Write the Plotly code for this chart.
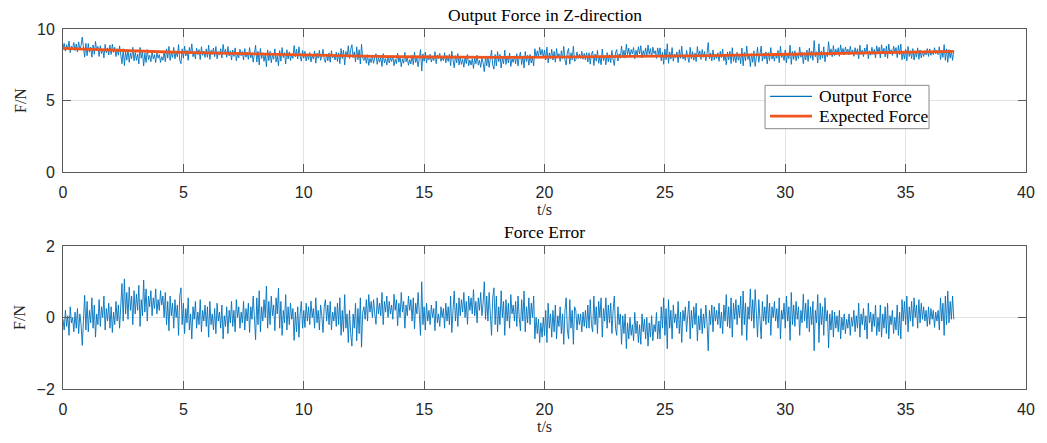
import plotly.graph_objects as go
from plotly.subplots import make_subplots

# ---------------- data ----------------
# sample times of the measured signals: 0.00, 0.05, ... 37.00 s
t_sample = [round(i * 0.05, 2) for i in range(741)]

# expected force, one value per second (t = 0 .. 37 s)
t_expected = list(range(38))
expected_force = [8.65, 8.58, 8.52, 8.46, 8.41, 8.36, 8.32, 8.28, 8.24, 8.20,
                  8.16, 8.13, 8.10, 8.08, 8.06, 8.04, 8.03, 8.02, 8.02, 8.02,
                  8.03, 8.04, 8.05, 8.06, 8.08, 8.10, 8.12, 8.14, 8.17, 8.20,
                  8.23, 8.26, 8.29, 8.32, 8.35, 8.38, 8.41, 8.44]

# measured output force (top panel), every 0.05 s, one row per second
output_force = [
    8.70, 9.00, 8.45, 8.90, 8.60, 9.15, 8.35, 8.80, 8.65, 9.05, 8.50, 8.95, 8.40, 9.10, 8.55, 8.85, 9.43, 8.60, 8.03, 9.00,
    8.13, 8.98, 8.38, 8.73, 8.03, 8.88, 8.23, 9.13, 8.48, 8.78, 8.08, 8.83, 8.28, 8.58, 7.98, 8.93, 8.33, 8.68, 8.18, 8.88,
    8.22, 8.94, 8.37, 8.72, 8.07, 8.62, 8.17, 8.82, 8.27, 7.57, 8.62, 7.44, 8.42, 7.82, 8.57, 7.67, 8.32, 7.92, 8.72, 7.77,
    8.36, 7.81, 8.26, 7.56, 8.71, 7.96, 8.41, 7.41, 8.31, 7.66, 8.56, 7.86, 8.16, 7.71, 8.41, 7.91, 8.21, 7.66, 8.36, 7.96,
    8.21, 7.66, 8.06, 7.81, 8.41, 7.71, 8.61, 7.96, 8.78, 7.81, 8.36, 8.01, 8.71, 7.91, 8.41, 8.06, 8.91, 7.81, 7.58, 8.61,
    7.96, 8.81, 8.11, 8.51, 7.81, 8.71, 8.26, 8.96, 8.06, 8.41, 7.91, 8.66, 8.21, 8.56, 7.86, 8.76, 8.16, 8.46, 8.01, 8.61,
    8.02, 8.87, 7.87, 8.52, 8.22, 8.67, 8.07, 8.77, 7.92, 8.42, 8.17, 8.62, 7.97, 8.92, 8.27, 8.57, 8.02, 8.77, 8.12, 8.47,
    7.83, 8.53, 8.08, 8.68, 7.78, 8.28, 7.98, 8.58, 8.13, 8.43, 7.83, 8.63, 8.03, 8.38, 7.88, 8.70, 7.98, 8.33, 7.68, 8.48,
    8.86, 7.69, 8.44, 7.49, 8.64, 7.94, 8.34, 7.74, 8.24, 7.36, 8.54, 7.79, 8.44, 7.64, 8.19, 7.89, 8.61, 7.69, 8.14, 7.42,
    8.50, 7.75, 8.70, 8.00, 8.35, 7.56, 8.55, 7.90, 8.40, 7.80, 8.25, 7.95, 8.84, 8.05, 8.60, 7.90, 8.75, 8.10, 7.75, 8.50,
    7.96, 8.44, 7.76, 8.26, 7.86, 8.36, 7.70, 8.16, 7.91, 8.46, 7.61, 8.31, 7.96, 8.51, 7.81, 8.11, 8.58, 7.86, 7.66, 8.26,
    7.78, 8.33, 7.68, 8.48, 7.98, 8.23, 7.83, 8.38, 7.73, 8.33, 7.58, 8.63, 7.93, 8.53, 7.49, 8.43, 8.03, 8.83, 7.93, 8.58,
    8.90, 8.00, 8.40, 7.70, 8.75, 7.85, 8.55, 7.55, 8.93, 7.95, 7.80, 8.15, 7.60, 8.20, 7.46, 7.95, 7.65, 8.10, 7.60, 8.00,
    8.27, 7.53, 7.98, 7.68, 8.03, 7.38, 8.28, 7.63, 7.93, 7.48, 8.08, 7.63, 7.98, 7.73, 8.13, 7.43, 7.88, 7.58, 8.31, 7.68,
    8.06, 7.36, 7.91, 7.61, 8.36, 7.71, 8.01, 7.46, 7.86, 7.56, 8.16, 7.51, 8.38, 7.66, 7.96, 7.36, 8.21, 8.56, 7.06, 8.26,
    7.74, 8.39, 7.64, 8.14, 7.84, 8.24, 7.69, 8.04, 7.79, 8.41, 7.58, 8.19, 7.94, 8.29, 7.74, 8.04, 7.79, 8.34, 7.64, 8.14,
    7.73, 8.23, 7.43, 8.45, 7.83, 7.29, 8.13, 7.63, 8.28, 7.48, 7.98, 7.53, 7.88, 7.33, 8.03, 7.58, 8.22, 7.43, 7.83, 7.48,
    7.92, 7.24, 7.97, 7.57, 8.17, 7.47, 7.82, 7.32, 7.97, 7.62, 7.02, 8.07, 7.42, 8.12, 7.32, 7.92, 8.52, 7.47, 7.19, 8.22,
    7.42, 8.42, 7.72, 8.22, 7.27, 8.02, 7.57, 8.52, 7.52, 8.12, 7.62, 8.32, 7.38, 7.92, 7.67, 8.12, 7.57, 8.27, 7.42, 8.02,
    8.39, 7.52, 8.12, 7.28, 8.42, 7.72, 8.17, 7.47, 8.22, 7.62, 8.02, 7.42, 8.62, 8.02, 8.47, 8.07, 8.72, 8.17, 8.57, 8.02,
    8.53, 7.83, 8.73, 7.63, 8.33, 7.93, 8.58, 7.83, 8.43, 7.68, 8.63, 7.98, 8.28, 7.73, 8.48, 7.93, 8.78, 7.83, 7.48, 8.38,
    8.64, 7.54, 8.34, 7.84, 8.79, 7.74, 7.84, 8.39, 7.94, 8.24, 7.94, 8.44, 7.89, 8.29, 7.84, 8.34, 7.69, 8.34, 7.54, 8.24,
    8.45, 7.45, 8.25, 7.75, 8.50, 7.60, 8.05, 7.50, 8.60, 7.80, 8.15, 7.50, 8.35, 7.70, 8.20, 7.65, 8.50, 7.85, 7.45, 8.35,
    8.56, 7.76, 8.26, 7.96, 8.81, 8.01, 8.51, 7.96, 8.93, 8.21, 8.66, 8.06, 8.56, 8.26, 8.71, 7.92, 8.51, 8.16, 8.76, 8.26,
    8.83, 7.98, 8.48, 8.13, 8.68, 8.08, 8.88, 8.23, 8.63, 8.03, 8.73, 8.28, 8.48, 7.94, 8.68, 8.18, 8.68, 7.78, 8.38, 7.53,
    8.60, 7.85, 8.97, 7.60, 8.40, 7.90, 8.70, 7.75, 8.25, 8.00, 8.40, 7.65, 8.55, 7.95, 8.80, 7.90, 8.20, 7.80, 8.50, 8.05,
    7.66, 8.72, 7.92, 8.42, 7.82, 8.32, 7.72, 8.77, 8.07, 8.47, 7.87, 8.57, 8.02, 8.42, 7.77, 8.27, 9.05, 7.92, 8.32, 7.77,
    8.54, 7.84, 8.24, 7.94, 8.34, 7.74, 8.44, 7.99, 8.59, 7.79, 8.24, 7.50, 8.39, 7.84, 8.44, 7.59, 8.69, 7.74, 8.19, 7.64,
    8.37, 7.82, 8.17, 7.57, 8.67, 7.43, 8.37, 7.77, 8.81, 7.87, 8.22, 7.37, 8.27, 7.67, 8.47, 7.39, 8.12, 8.72, 7.67, 8.27,
    8.80, 7.75, 8.30, 7.90, 8.40, 7.56, 8.35, 7.80, 8.70, 7.90, 8.20, 7.75, 8.30, 7.95, 8.50, 7.65, 8.80, 8.00, 8.25, 7.80,
    8.53, 7.63, 8.33, 7.93, 8.87, 7.53, 8.43, 7.88, 8.48, 7.78, 8.28, 7.93, 8.73, 8.03, 8.38, 7.58, 8.33, 7.83, 8.53, 7.73,
    8.66, 7.96, 8.46, 7.81, 9.19, 8.06, 8.41, 7.62, 8.96, 7.86, 8.46, 7.96, 8.76, 7.71, 8.36, 8.06, 9.11, 8.16, 8.61, 8.06,
    8.84, 8.14, 8.59, 8.24, 8.69, 8.09, 8.89, 8.29, 8.64, 8.19, 8.74, 8.34, 8.59, 8.19, 8.79, 8.29, 8.54, 8.09, 8.69, 8.24,
    8.62, 7.92, 8.87, 8.22, 8.52, 8.07, 8.67, 8.27, 8.92, 7.92, 8.47, 8.17, 8.72, 8.22, 8.57, 7.97, 8.82, 8.32, 8.72, 7.97,
    8.90, 8.25, 8.65, 8.05, 8.80, 7.95, 8.95, 8.30, 8.55, 8.15, 8.80, 8.35, 8.70, 8.00, 8.85, 8.20, 8.95, 7.85, 8.45, 7.90,
    8.58, 7.78, 8.78, 8.08, 8.48, 7.93, 8.63, 7.83, 8.38, 8.03, 8.68, 7.88, 8.53, 7.98, 8.43, 8.08, 8.48, 8.18, 8.63, 8.08,
    8.61, 8.16, 8.46, 8.21, 8.69, 8.26, 8.51, 8.21, 8.76, 7.86, 8.51, 8.01, 8.91, 7.81, 8.61, 7.67, 8.56, 7.96, 8.46, 7.81,
    8.49,
]

# force error (bottom panel), every 0.05 s, one row per second
force_error = [
    -0.05, -0.35, 0.20, -0.25, 0.05, -0.50, 0.30, -0.15, 0.00, -0.40, 0.15, -0.30, 0.25, -0.45, 0.10, -0.20, -0.78, 0.05, 0.62, -0.35,
    0.45, -0.40, 0.20, -0.15, 0.55, -0.30, 0.35, -0.55, 0.10, -0.20, 0.50, -0.25, 0.30, 0.00, 0.60, -0.35, 0.25, -0.10, 0.40, -0.30,
    0.30, -0.42, 0.15, -0.20, 0.45, -0.10, 0.35, -0.30, 0.25, 0.95, -0.10, 1.08, 0.10, 0.70, -0.05, 0.85, 0.20, 0.60, -0.20, 0.75,
    0.10, 0.65, 0.20, 0.90, -0.25, 0.50, 0.05, 1.05, 0.15, 0.80, -0.10, 0.60, 0.30, 0.75, 0.05, 0.55, 0.25, 0.80, 0.10, 0.50,
    0.20, 0.75, 0.35, 0.60, 0.00, 0.70, -0.20, 0.45, -0.37, 0.60, 0.05, 0.40, -0.30, 0.50, 0.00, 0.35, -0.50, 0.60, 0.83, -0.20,
    0.40, -0.45, 0.25, -0.15, 0.55, -0.35, 0.10, -0.60, 0.30, -0.05, 0.45, -0.30, 0.15, -0.20, 0.50, -0.40, 0.20, -0.10, 0.35, -0.25,
    0.30, -0.55, 0.45, -0.20, 0.10, -0.35, 0.25, -0.45, 0.40, -0.10, 0.15, -0.30, 0.35, -0.60, 0.05, -0.25, 0.30, -0.45, 0.20, -0.15,
    0.45, -0.25, 0.20, -0.40, 0.50, 0.00, 0.30, -0.30, 0.15, -0.15, 0.45, -0.35, 0.25, -0.10, 0.40, -0.42, 0.30, -0.05, 0.60, -0.20,
    -0.62, 0.55, -0.20, 0.75, -0.40, 0.30, -0.10, 0.50, 0.00, 0.88, -0.30, 0.45, -0.20, 0.60, 0.05, 0.35, -0.37, 0.55, 0.10, 0.82,
    -0.30, 0.45, -0.50, 0.20, -0.15, 0.64, -0.35, 0.30, -0.20, 0.40, -0.05, 0.25, -0.64, 0.15, -0.40, 0.30, -0.55, 0.10, 0.45, -0.30,
    0.20, -0.28, 0.40, -0.10, 0.30, -0.20, 0.46, 0.00, 0.25, -0.30, 0.55, -0.15, 0.20, -0.35, 0.35, 0.05, -0.42, 0.30, 0.50, -0.10,
    0.35, -0.20, 0.45, -0.35, 0.15, -0.10, 0.30, -0.25, 0.40, -0.20, 0.55, -0.50, 0.20, -0.40, 0.64, -0.30, 0.10, -0.70, 0.20, -0.45,
    -0.80, 0.10, -0.30, 0.40, -0.65, 0.25, -0.45, 0.55, -0.83, 0.15, 0.30, -0.05, 0.50, -0.10, 0.64, 0.15, 0.45, 0.00, 0.50, 0.10,
    -0.19, 0.55, 0.10, 0.40, 0.05, 0.70, -0.20, 0.45, 0.15, 0.60, 0.00, 0.45, 0.10, 0.35, -0.05, 0.65, 0.20, 0.50, -0.23, 0.40,
    0.00, 0.70, 0.15, 0.45, -0.30, 0.35, 0.05, 0.60, 0.20, 0.50, -0.10, 0.55, -0.32, 0.40, 0.10, 0.70, -0.15, -0.50, 1.00, -0.20,
    0.30, -0.35, 0.40, -0.10, 0.20, -0.20, 0.35, 0.00, 0.25, -0.37, 0.46, -0.15, 0.10, -0.25, 0.30, 0.00, 0.25, -0.30, 0.40, -0.10,
    0.30, -0.20, 0.60, -0.42, 0.20, 0.74, -0.10, 0.40, -0.25, 0.55, 0.05, 0.50, 0.15, 0.70, 0.00, 0.45, -0.19, 0.60, 0.20, 0.55,
    0.10, 0.78, 0.05, 0.45, -0.15, 0.55, 0.20, 0.70, 0.05, 0.40, 1.00, -0.05, 0.60, -0.10, 0.70, 0.10, -0.50, 0.55, 0.83, -0.20,
    0.60, -0.40, 0.30, -0.20, 0.75, 0.00, 0.45, -0.50, 0.50, -0.10, 0.40, -0.30, 0.64, 0.10, 0.35, -0.10, 0.45, -0.25, 0.60, 0.00,
    -0.37, 0.50, -0.10, 0.74, -0.40, 0.30, -0.15, 0.55, -0.20, 0.40, 0.00, 0.60, -0.60, 0.00, -0.45, -0.05, -0.70, -0.15, -0.55, 0.00,
    -0.50, 0.20, -0.70, 0.40, -0.30, 0.10, -0.55, 0.20, -0.40, 0.35, -0.60, 0.05, -0.25, 0.30, -0.45, 0.10, -0.75, 0.20, 0.55, -0.35,
    -0.60, 0.50, -0.30, 0.20, -0.75, 0.30, 0.20, -0.35, 0.10, -0.20, 0.10, -0.40, 0.15, -0.25, 0.20, -0.30, 0.35, -0.30, 0.50, -0.20,
    -0.40, 0.60, -0.20, 0.30, -0.45, 0.45, 0.00, 0.55, -0.55, 0.25, -0.10, 0.55, -0.30, 0.35, -0.15, 0.40, -0.45, 0.20, 0.60, -0.30,
    -0.50, 0.30, -0.20, 0.10, -0.75, 0.05, -0.45, 0.10, -0.87, -0.15, -0.60, 0.00, -0.50, -0.20, -0.65, 0.14, -0.45, -0.10, -0.70, -0.20,
    -0.75, 0.10, -0.40, -0.05, -0.60, 0.00, -0.80, -0.15, -0.55, 0.05, -0.65, -0.20, -0.40, 0.14, -0.60, -0.10, -0.60, 0.30, -0.30, 0.55,
    -0.50, 0.25, -0.87, 0.50, -0.30, 0.20, -0.60, 0.35, -0.15, 0.10, -0.30, 0.45, -0.45, 0.15, -0.70, 0.20, -0.10, 0.30, -0.40, 0.05,
    0.46, -0.60, 0.20, -0.30, 0.30, -0.20, 0.40, -0.65, 0.05, -0.35, 0.25, -0.45, 0.10, -0.30, 0.35, -0.15, -0.93, 0.20, -0.20, 0.35,
    -0.40, 0.30, -0.10, 0.20, -0.20, 0.40, -0.30, 0.15, -0.45, 0.35, -0.10, 0.64, -0.25, 0.30, -0.30, 0.55, -0.55, 0.40, -0.05, 0.50,
    -0.20, 0.35, 0.00, 0.60, -0.50, 0.74, -0.20, 0.40, -0.64, 0.30, -0.05, 0.80, -0.10, 0.50, -0.30, 0.78, 0.05, -0.55, 0.50, -0.10,
    -0.60, 0.45, -0.10, 0.30, -0.20, 0.64, -0.15, 0.40, -0.50, 0.30, 0.00, 0.45, -0.10, 0.25, -0.30, 0.55, -0.60, 0.20, -0.05, 0.40,
    -0.30, 0.60, -0.10, 0.30, -0.64, 0.70, -0.20, 0.35, -0.25, 0.45, -0.05, 0.30, -0.50, 0.20, -0.15, 0.65, -0.10, 0.40, -0.30, 0.50,
    -0.40, 0.30, -0.20, 0.45, -0.93, 0.20, -0.15, 0.64, -0.70, 0.40, -0.20, 0.30, -0.50, 0.55, -0.10, 0.20, -0.85, 0.10, -0.35, 0.20,
    -0.55, 0.15, -0.30, 0.05, -0.40, 0.20, -0.60, 0.00, -0.35, 0.10, -0.45, -0.05, -0.30, 0.10, -0.50, 0.00, -0.25, 0.20, -0.40, 0.05,
    -0.30, 0.40, -0.55, 0.10, -0.20, 0.25, -0.35, 0.05, -0.60, 0.40, -0.15, 0.15, -0.40, 0.10, -0.25, 0.35, -0.50, 0.00, -0.40, 0.35,
    -0.55, 0.10, -0.30, 0.30, -0.45, 0.40, -0.60, 0.05, -0.20, 0.20, -0.45, 0.00, -0.35, 0.35, -0.50, 0.15, -0.60, 0.50, -0.10, 0.45,
    -0.20, 0.60, -0.40, 0.30, -0.10, 0.45, -0.25, 0.55, 0.00, 0.35, -0.30, 0.50, -0.15, 0.40, -0.05, 0.30, -0.10, 0.20, -0.25, 0.30,
    -0.20, 0.25, -0.05, 0.20, -0.28, 0.15, -0.10, 0.20, -0.35, 0.55, -0.10, 0.40, -0.50, 0.60, -0.20, 0.74, -0.15, 0.45, -0.05, 0.60,
    -0.05,
]

x_ticks = [0, 5, 10, 15, 20, 25, 30, 35, 40]
top_y_ticks = [0, 5, 10]
bottom_y_ticks = [-2, 0, 2]
legend_labels = ["Output Force", "Expected Force"]

# ---------------- figure ----------------
BLUE = "#0072BD"
ORANGE = "#F0541E"
AXIS = "#5a5a5a"
GRID = "#e3e3e3"
TXT = "#262626"
SERIF = "Liberation Serif, Times New Roman, serif"
SANS = "Liberation Sans, Arial, sans-serif"

fig = make_subplots(rows=2, cols=1, vertical_spacing=75 / 365)

fig.add_trace(go.Scatter(x=t_sample, y=output_force, mode="lines", name=legend_labels[0],
                         showlegend=False, line=dict(color=BLUE, width=0.9)), row=1, col=1)
fig.add_trace(go.Scatter(x=t_expected, y=expected_force, mode="lines", name=legend_labels[1],
                         showlegend=False, line=dict(color=ORANGE, width=2.8)), row=1, col=1)
fig.add_trace(go.Scatter(x=t_sample, y=force_error, mode="lines", name="Force Error",
                         showlegend=False, line=dict(color=BLUE, width=0.9)), row=2, col=1)

axis_common = dict(showline=True, linecolor=AXIS, linewidth=1, mirror="ticks",
                   ticks="inside", ticklen=8, tickcolor=AXIS, tickwidth=1,
                   showgrid=True, gridcolor=GRID, gridwidth=1, zeroline=False,
                   tickfont=dict(family=SANS, size=16, color=TXT))

for r in (1, 2):
    fig.update_xaxes(range=[0, 40], tickvals=x_ticks, row=r, col=1, ticklabelstandoff=6,
                     title=dict(text="t/s", font=dict(family=SERIF, size=16, color=TXT),
                                standoff=2),
                     **axis_common)
fig.update_yaxes(range=[0, 10], tickvals=top_y_ticks, row=1, col=1, ticklabelstandoff=4,
                 title=dict(text="F/N", font=dict(family=SERIF, size=16, color=TXT),
                            standoff=6),
                 **axis_common)
fig.update_yaxes(range=[-2, 2], tickvals=bottom_y_ticks, row=2, col=1, ticklabelstandoff=4,
                 title=dict(text="F/N", font=dict(family=SERIF, size=16, color=TXT),
                            standoff=6),
                 **axis_common)

fig.add_annotation(text="Output Force in Z-direction", xref="x domain", yref="y domain",
                   x=0.5, y=1.0, yanchor="bottom", showarrow=False, yshift=2,
                   font=dict(family=SERIF, size=17.5, color="#000000"))
fig.add_annotation(text="Force Error", xref="x2 domain", yref="y2 domain",
                   x=0.5, y=1.0, yanchor="bottom", showarrow=False, yshift=2,
                   font=dict(family=SERIF, size=17.5, color="#000000"))

# legend box (MATLAB style) in the top panel, placed in axis-domain coordinates
fig.add_shape(type="rect", xref="x domain", yref="y domain",
              x0=0.729, x1=0.8993, y0=0.303, y1=0.606,
              line=dict(color="#8a8a8a", width=1), fillcolor="white", layer="above")
legend_rows = [(0.529, BLUE, 1.2), (0.391, ORANGE, 2.8)]
for (yy, col, w), label in zip(legend_rows, legend_labels):
    fig.add_shape(type="line", xref="x domain", yref="y domain",
                  x0=0.7342, x1=0.7778, y0=yy, y1=yy,
                  line=dict(color=col, width=w), layer="above")
    fig.add_annotation(text=label, xref="x domain", yref="y domain",
                       x=0.7825, y=yy, xanchor="left", yanchor="middle", showarrow=False,
                       font=dict(family=SERIF, size=17.5, color="#000000"))

fig.update_layout(
    width=1047, height=443,
    margin=dict(l=63, r=21, t=29, b=49),
    paper_bgcolor="white", plot_bgcolor="white",
    showlegend=False,
    hovermode=False,
)

# remove the default 8px page margin so the figure fills the window exactly
fig.write_html("out.html",
               config={"displayModeBar": False},
               post_script="document.body.style.margin='0px';document.body.style.padding='0px';")
